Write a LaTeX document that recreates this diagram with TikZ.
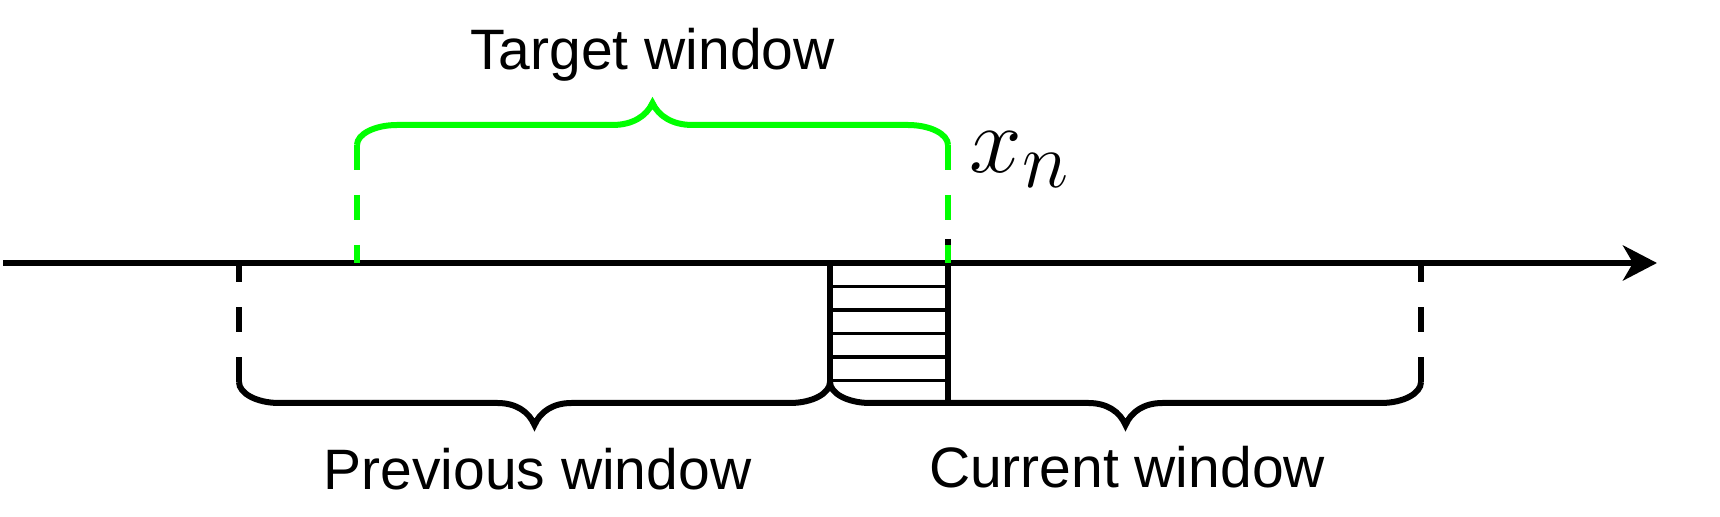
\documentclass[tikz,border=0pt]{standalone}
\usepackage{fontspec}
\newfontfamily\labelfont{Liberation Sans}
\usetikzlibrary{arrows.meta, calc}
% brace: left x, right x, end y, line y, tip y, tip half width
\newcommand{\winbrace}[6]{
  (#1,#3) .. controls (#1,{#3+0.55*(#4-#3)}) and ({#1+18},#4) .. ({#1+40},#4)
  -- ({(#1+#2)/2-#6},#4) .. controls ({(#1+#2)/2-0.5*#6},#4) and ({(#1+#2)/2-0.15*#6},{#4+0.4*(#5-#4)}) .. ({(#1+#2)/2},#5)
  .. controls ({(#1+#2)/2+0.15*#6},{#4+0.4*(#5-#4)}) and ({(#1+#2)/2+0.5*#6},#4) .. ({(#1+#2)/2+#6},#4)
  -- ({#2-40},#4) .. controls ({#2-18},#4) and (#2,{#3+0.55*(#4-#3)}) .. (#2,#3)}
\definecolor{wingreen}{RGB}{0,255,0}
\tikzset{
  timeaxis/.style={line width=3pt, -{Stealth[length=17pt, width=17.5pt, inset=5pt]}},
  solidmark/.style={line width=3pt},
  dashmark/.style={line width=3pt, dash pattern=on 12.5pt off 12.5pt},
  hatch/.style={line width=1.6pt},
  wlabel/.style={font=\labelfont\fontsize{28.5}{34}\selectfont, inner sep=0pt, anchor=base}
}
\begin{document}
\begin{tikzpicture}[x=0.5pt, y=-0.5pt]
  \useasboundingbox (0,0) rectangle (1720,517);

  \coordinate (axL) at (3,263);
  \coordinate (axR) at (1657,263);
  \draw[timeaxis] (axL) -- (axR);

  % hatched block
  \foreach \k in {1,...,5}
    \draw[hatch] (833,{263+23.5*\k}) -- (945,{263+23.5*\k});
  \draw[solidmark] (830,263) -- (830,382);
  \draw[solidmark] (948,239) -- (948,403);

  % previous / current windows
  \draw[dashmark] (239,382) -- (239,263);
  \draw[dashmark] (1421,382) -- (1421,263);
  \draw[solidmark] \winbrace{239}{830}{382}{403}{425}{37};
  \draw[solidmark] \winbrace{830}{1421}{382}{403}{425}{37};

  % target window
  \draw[dashmark, wingreen] (357,145) -- (357,263);
  \draw[dashmark, wingreen] (948,145) -- (948,263);
  \draw[solidmark, wingreen] \winbrace{357}{948}{145}{125}{103}{40};

  \node[wlabel] (target) at (652.5,70) {Target window};
  \node[wlabel] (prev) at (537.5,490) {Previous window};
  \node[wlabel] (curr) at (1127,488) {Current window};
  \node[anchor=base west, inner sep=0pt, font=\Huge, scale=1.9] (xn) at (969,173) {$x_n$};
\end{tikzpicture}
\end{document}
